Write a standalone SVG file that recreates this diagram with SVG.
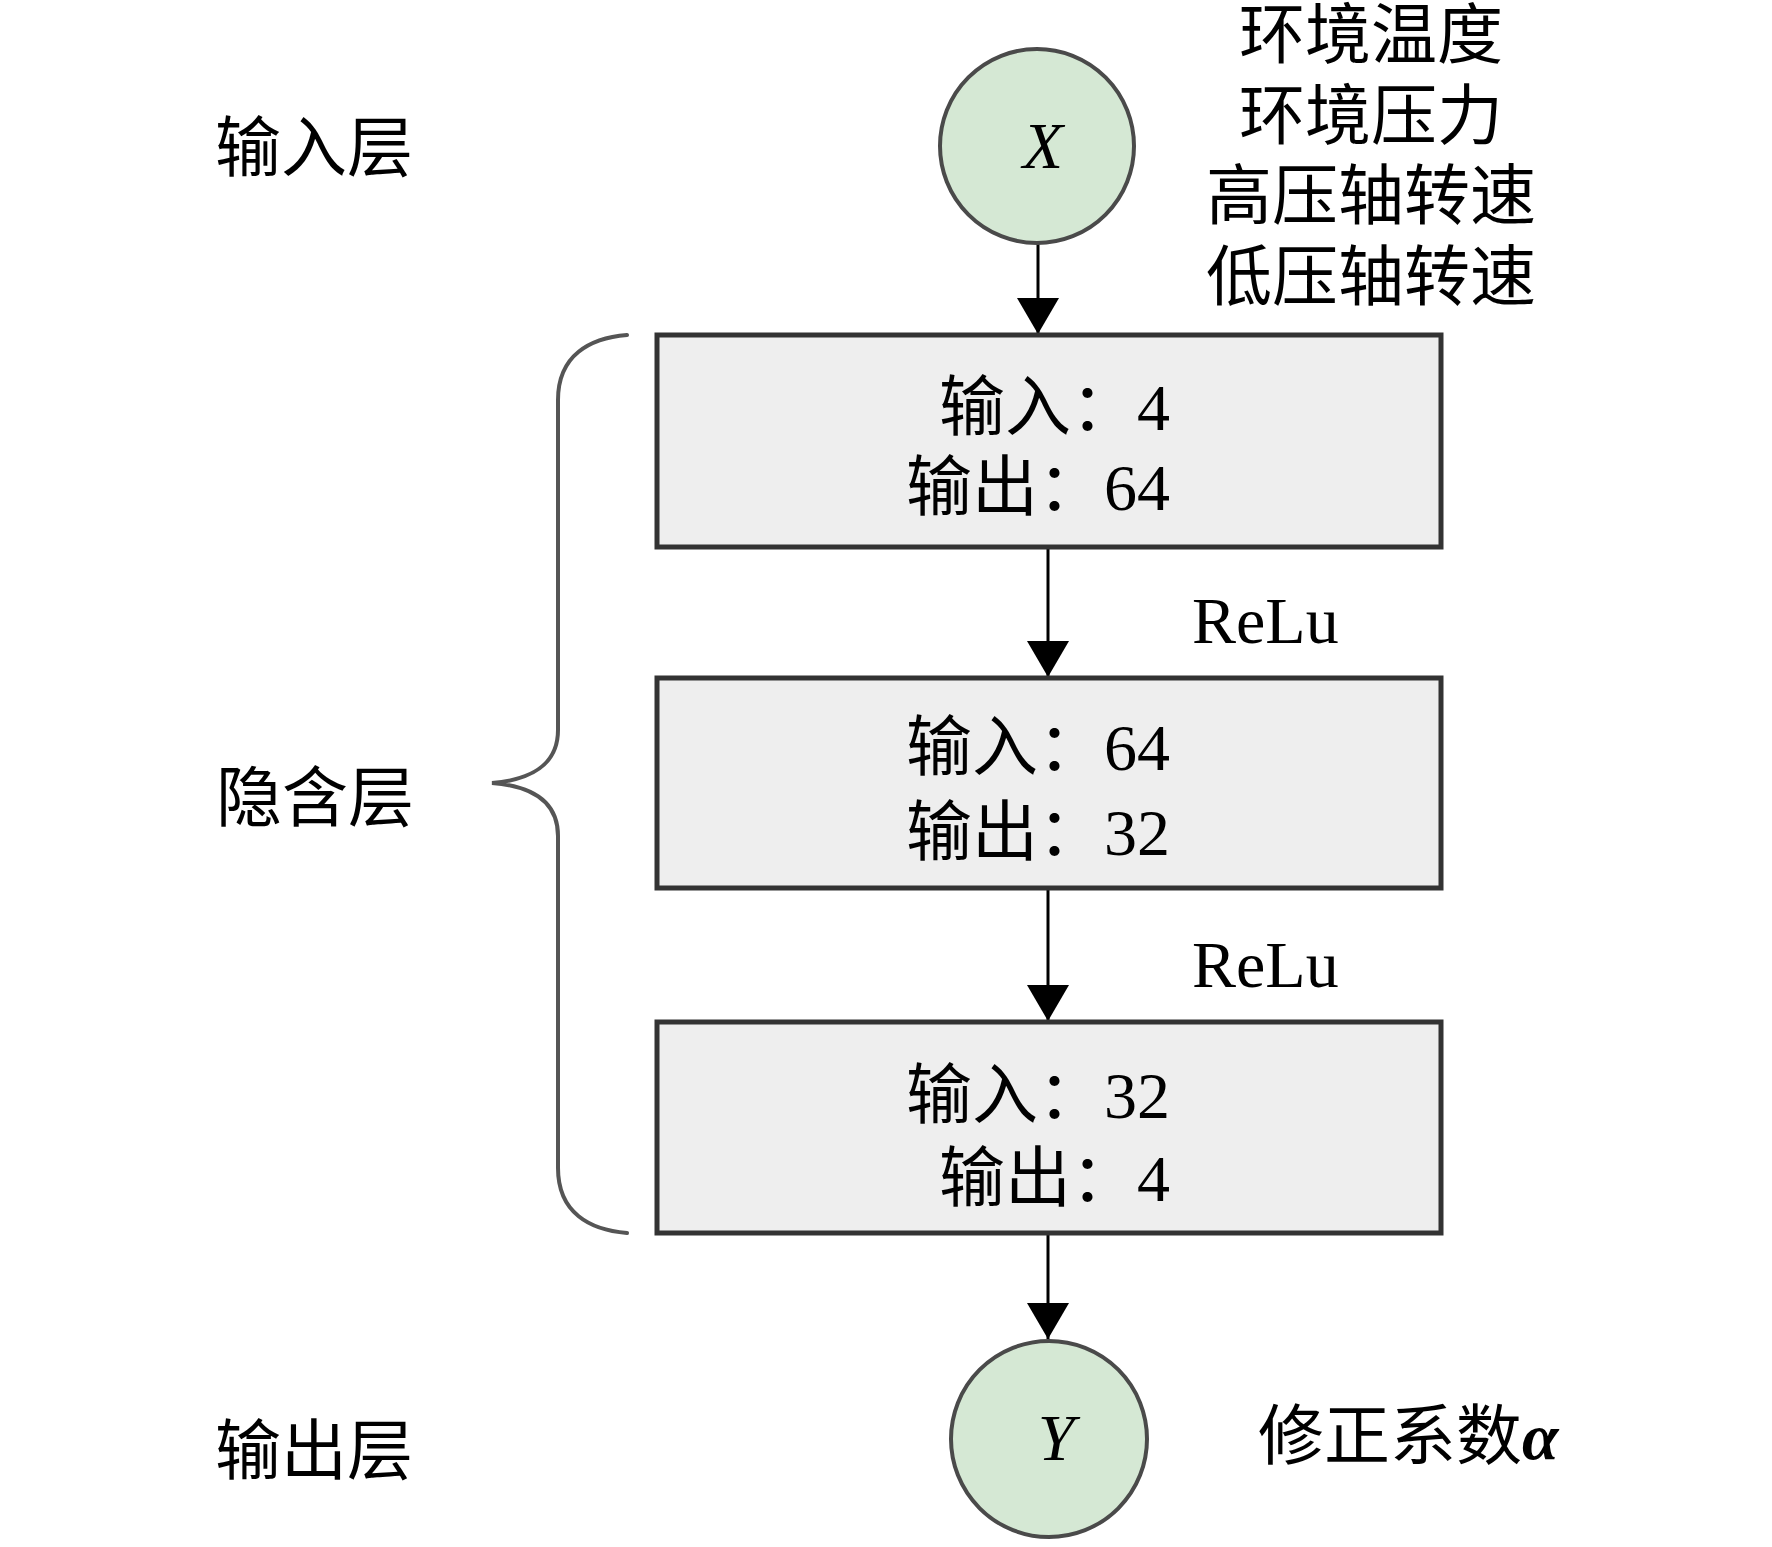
<svg xmlns="http://www.w3.org/2000/svg" width="1772" height="1547" viewBox="0 0 1772 1547">
<style>
.t{font-family:"Liberation Serif","Noto Sans CJK SC",serif;font-size:66px;fill:#000}
.m{text-anchor:middle}
.e{text-anchor:end}
.var{font-family:"Liberation Serif",serif;font-style:italic;font-size:66px;text-anchor:middle}
.box{fill:#eeeeee;stroke:#333;stroke-width:5}
.node{fill:#d5e8d4;stroke:#4a4a4a;stroke-width:4}
.conn{stroke:#000;stroke-width:3;fill:none;marker-end:url(#arr)}
.brace{fill:none;stroke:#555;stroke-width:4;stroke-linecap:round}
</style>
<defs>
<marker id="arr" markerUnits="userSpaceOnUse" markerWidth="36" markerHeight="42" viewBox="0 0 36 42" refX="36" refY="21" orient="auto">
<path d="M0,0 L36,21 L0,42 z" fill="#000"/>
</marker>
</defs>
<rect width="1772" height="1547" fill="#fff"/>
<g id="labels">
<text class="t" x="215" y="171">输入层</text>
<text class="t" x="216" y="821">隐含层</text>
<text class="t" x="215" y="1474">输出层</text>
</g>
<g id="brace"><path class="brace" d="M627,335 C590,338 558,355 558,400 L558,730 C558,765 530,780 492,783 C530,786 558,800 558,836 L558,1168 C558,1213 590,1230 627,1233"/></g>
<g id="connectors">
<line class="conn" x1="1038" y1="243" x2="1038" y2="334"/>
<line class="conn" x1="1048" y1="548" x2="1048" y2="677"/>
<line class="conn" x1="1048" y1="890" x2="1048" y2="1021"/>
<line class="conn" x1="1048" y1="1235" x2="1048" y2="1339"/>
<text class="t" x="1192" y="643">ReLu</text>
<text class="t" x="1192" y="987">ReLu</text>
</g>
<g id="nodeX">
<circle class="node" cx="1037" cy="146" r="97"/>
<text class="var" x="1043" y="168">X</text>
</g>
<g id="inputs">
<text class="t m" x="1371" y="58">环境温度</text>
<text class="t m" x="1371" y="139">环境压力</text>
<text class="t m" x="1371" y="219">高压轴转速</text>
<text class="t m" x="1371" y="300">低压轴转速</text>
</g>
<g id="layer1">
<rect class="box" x="657" y="335" width="784" height="212"/>
<text class="t e" x="1170" y="430">输入：4</text>
<text class="t e" x="1170" y="510">输出：64</text>
</g>
<g id="layer2">
<rect class="box" x="657" y="678" width="784" height="210"/>
<text class="t e" x="1170" y="770">输入：64</text>
<text class="t e" x="1170" y="855">输出：32</text>
</g>
<g id="layer3">
<rect class="box" x="657" y="1022" width="784" height="211"/>
<text class="t e" x="1170" y="1118">输入：32</text>
<text class="t e" x="1170" y="1201">输出：4</text>
</g>
<g id="nodeY">
<circle class="node" cx="1049" cy="1439" r="98"/>
<text class="var" x="1056" y="1460">Y</text>
</g>
<g id="output">
<text class="t" x="1258" y="1459">修正系数<tspan font-weight="bold" font-style="italic">α</tspan></text>
</g>
</svg>
